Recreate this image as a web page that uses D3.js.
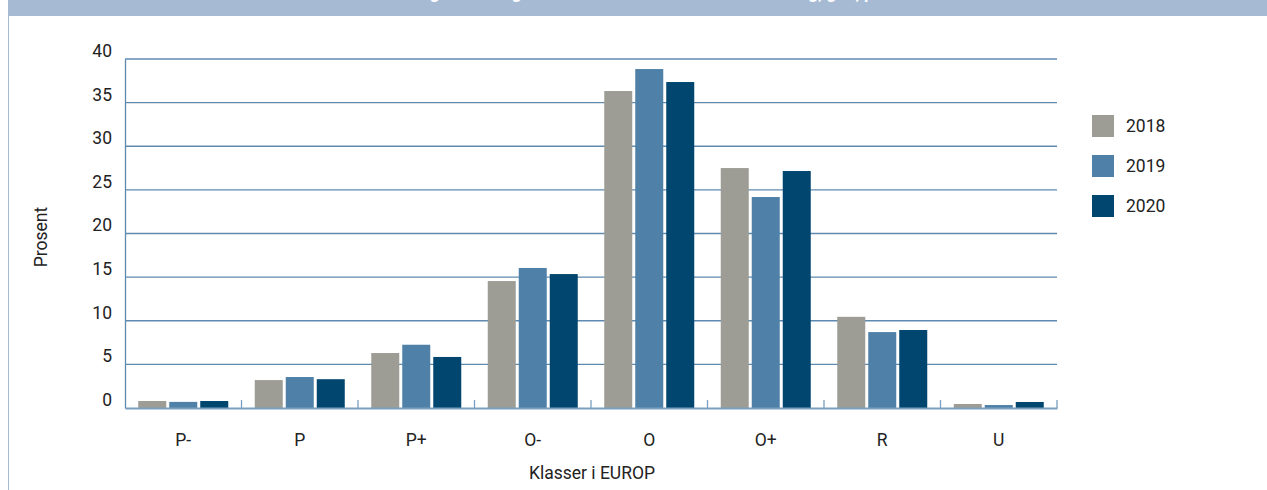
<!DOCTYPE html>
<html><head><meta charset="utf-8">
<script src="https://cdn.jsdelivr.net/npm/d3@7"></script>
<style>
html,body{margin:0;padding:0;background:#fff;}
svg{display:block;font-family:Roboto,"Open Sans",sans-serif;}
</style></head>
<body><svg id="c" width="1267" height="490"></svg>
<script>
const title = "Fordeling av slaktegris i klasser etter EUROP-klassifisering, gris, prosent";
const categories = ["P-","P","P+","O-","O","O+","R","U"];
const years = ["2018","2019","2020"];
const values2018 = [0.8, 3.2, 6.3, 14.55, 36.33, 27.5, 10.45, 0.46];
const values2019 = [0.7, 3.55, 7.25, 16.05, 38.85, 24.18, 8.7, 0.34];
const values2020 = [0.8, 3.3, 5.85, 15.35, 37.36, 27.16, 8.94, 0.69];
const yTicks = [0,5,10,15,20,25,30,35,40];
const colors = ["#9d9d95","#4e80a8","#00466e"];
const series = [values2018, values2019, values2020];
const FS = 17.5;

const svg = d3.select("#c");
svg.append("rect").attr("x",8).attr("y",0).attr("width",1259).attr("height",16).attr("fill","#a6bbd3");
svg.append("line").attr("x1",8.5).attr("x2",8.5).attr("y1",0).attr("y2",490).attr("stroke","#a6bbd3").attr("stroke-width",1);
svg.append("text").attr("x",645).attr("y",-1).attr("text-anchor","middle").attr("fill","#fff")
  .attr("font-weight","bold").attr("font-size",17).text(title);

const x0 = d3.scaleBand().domain(categories).range([125,1057]).padding(0);
const y = d3.scaleLinear().domain([0,40]).range([408,59]);
const bw = 28, gap = 3;
const x1 = d3.scaleBand().domain(years).range([0, bw*3+gap*2]).paddingInner(gap/(bw+gap)).paddingOuter(0);

svg.append("g").selectAll("line").data(yTicks.filter(d=>d>0)).join("line")
  .attr("x1",125).attr("x2",1057).attr("y1",d=>y(d)).attr("y2",d=>y(d))
  .attr("stroke","#5f8ab0").attr("stroke-width",1.3);

const ya = svg.append("g").attr("transform","translate(125,0)")
  .call(d3.axisLeft(y).tickValues(yTicks).tickSize(0).tickPadding(13));
ya.select(".domain").attr("stroke","#5f8ab0").attr("stroke-width",1.3);
ya.selectAll("text").attr("font-size",FS).attr("fill","#222").attr("font-family","Roboto,sans-serif").attr("dy","-0.15em");

const groups = svg.append("g").selectAll("g").data(categories).join("g")
  .attr("transform",d=>`translate(${x0(d)+x0.bandwidth()/2-(bw*3+gap*2)/2},0)`);
groups.selectAll("rect").data((c,i)=>years.map((yr,j)=>({yr,v:series[j][i],j}))).join("rect")
  .attr("x",d=>x1(d.yr)).attr("width",x1.bandwidth())
  .attr("y",d=>y(d.v)).attr("height",d=>y(0)-y(d.v))
  .attr("fill",d=>colors[d.j]);

const xa = svg.append("g").attr("transform","translate(0,408)")
  .call(d3.axisBottom(x0).tickSize(0).tickPadding(26));
xa.select(".domain").attr("stroke","#7a9fbf").attr("stroke-width",2);
xa.selectAll("text").attr("font-size",FS).attr("fill","#222").attr("font-family","Roboto,sans-serif");
const bounds = categories.slice(1).map(c=>x0(c)).concat([x0.range()[1]]);
svg.append("g").selectAll("line").data(bounds).join("line")
  .attr("x1",d=>d).attr("x2",d=>d).attr("y1",y(0)-8).attr("y2",y(0))
  .attr("stroke","#7a9fbf").attr("stroke-width",1.3);

svg.append("text").attr("x",592).attr("y",479).attr("text-anchor","middle")
  .attr("font-size",FS).attr("fill","#222").text("Klasser i EUROP");
svg.append("text").attr("transform","translate(47,237) rotate(-90)").attr("text-anchor","middle")
  .attr("font-size",FS).attr("fill","#222").text("Prosent");

const lg = svg.append("g").selectAll("g").data(years).join("g")
  .attr("transform",(d,i)=>`translate(1092,${115+i*40})`);
lg.append("rect").attr("width",22).attr("height",22).attr("fill",(d,i)=>colors[i]);
lg.append("text").attr("x",34).attr("y",17).attr("font-size",FS).attr("fill","#222").text(d=>d);
</script></body></html>
